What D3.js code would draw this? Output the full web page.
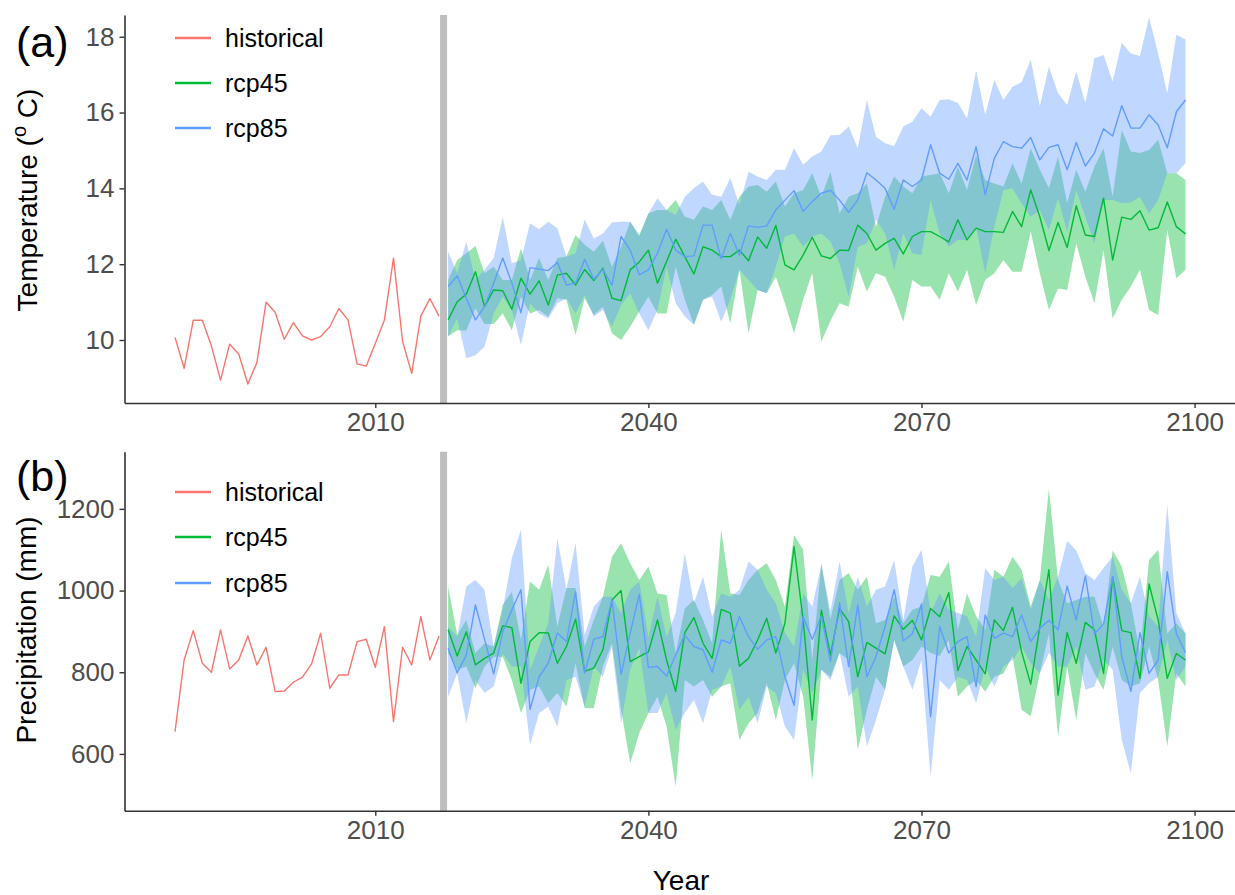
<!DOCTYPE html>
<html>
<head>
<meta charset="utf-8">
<script src="https://cdn.jsdelivr.net/npm/d3@7/dist/d3.min.js"></script>
<style>
  html, body { margin: 0; padding: 0; background: #fff; }
  svg { display: block; font-family: "Liberation Sans", Arial, sans-serif; }
</style>
</head>
<body>
<svg id="chart" width="1235" height="895"></svg>
<script>
// ---------------- DATA ----------------
const histStart = 1988;
const futStart = 2018;
const seriesNames = ["historical", "rcp45", "rcp85"];
const xTicks = [2010, 2040, 2070, 2100];
const tempTicks = [10, 12, 14, 16, 18];
const precTicks = [600, 800, 1000, 1200];

const histTemp = [10.07, 9.25, 10.52, 10.52, 9.84, 8.94, 9.89, 9.63, 8.84, 9.41, 11.00, 10.73, 10.02, 10.46, 10.11, 10.00, 10.09, 10.35, 10.83, 10.53, 9.37, 9.31, 9.91, 10.53, 12.16, 9.96, 9.12, 10.63, 11.09, 10.63];

const t45 = [10.53, 11.01, 11.21, 11.80, 10.88, 11.32, 11.30, 10.81, 11.63, 11.21, 11.56, 10.92, 11.71, 11.76, 11.45, 11.86, 11.57, 11.89, 11.10, 11.04, 11.85, 12.06,
  12.37, 11.50, 12.07, 12.66, 12.20, 11.74, 12.46, 12.37, 12.20, 12.20, 12.37, 12.09, 12.72, 12.42, 13.02, 11.98, 11.85, 12.24, 12.71, 12.22, 12.15,
  12.37, 12.36, 13.03, 12.81, 12.37, 12.55, 12.68, 12.27, 12.73, 12.86, 12.86, 12.73, 12.59, 13.17, 12.64, 12.95, 12.86, 12.86, 12.84, 13.39, 12.99,
  13.96, 13.25, 12.36, 13.10, 12.44, 13.54, 12.77, 12.73, 13.74, 12.11, 13.24, 13.18, 13.41, 12.90, 12.96, 13.64, 12.99, 12.80];
const t45Hi = [11.58, 12.11, 12.29, 12.48, 11.76, 11.93, 11.58, 11.58, 12.42, 11.58, 12.16, 11.58, 12.16, 12.20, 12.77, 12.51, 12.33, 12.62, 11.93, 12.46, 13.12, 12.77,
  13.34, 13.43, 13.43, 13.69, 13.25, 13.17, 13.52, 13.43, 13.69, 13.17, 13.78, 14.05, 14.09, 13.91, 14.18, 13.52, 13.87, 13.96, 14.40, 13.78, 14.44,
  13.34, 13.78, 13.87, 14.13, 12.99, 13.78, 14.31, 14.05, 13.87, 14.31, 14.35, 14.40, 13.87, 14.57, 13.96, 14.88, 14.22, 14.13, 14.05, 14.66, 14.13,
  15.06, 14.49, 14.00, 14.84, 13.61, 14.49, 13.91, 14.57, 15.06, 13.78, 15.54, 14.97, 14.93, 15.01, 15.28, 14.40, 14.40, 14.22];
const t45Lo = [10.09, 10.26, 10.25, 10.84, 10.42, 10.42, 10.70, 10.26, 11.14, 10.70, 10.79, 10.62, 11.10, 11.06, 10.13, 11.10, 10.66, 10.88, 10.18, 10.00, 10.35, 10.75,
  11.14, 10.70, 10.70, 11.93, 11.06, 10.40, 11.06, 11.19, 11.41, 10.44, 11.85, 10.18, 11.32, 11.23, 11.67, 10.97, 10.18, 11.06, 11.76, 9.96, 10.50,
  10.97, 10.88, 11.93, 11.28, 11.76, 11.67, 11.14, 10.48, 11.58, 11.41, 11.41, 11.06, 11.76, 11.28, 11.85, 10.92, 11.58, 11.76, 12.11, 11.80, 11.80,
  12.86, 11.76, 10.79, 11.36, 11.32, 12.55, 11.67, 10.97, 12.37, 10.57, 11.06, 11.41, 11.85, 10.79, 10.66, 12.90, 11.63, 11.85];

const t85 = [11.41, 11.69, 11.10, 10.53, 10.88, 11.50, 12.16, 11.50, 10.72, 11.91, 11.87, 11.83, 12.05, 11.45, 11.50, 12.13, 11.60, 11.86, 11.45, 12.73, 12.37, 11.72,
  11.85, 12.29, 12.92, 12.37, 12.20, 12.22, 13.03, 13.03, 12.14, 12.81, 12.24, 13.01, 12.97, 13.01, 13.43, 13.69, 13.94, 13.39, 13.65, 13.87, 13.95,
  13.69, 13.37, 13.69, 14.41, 14.22, 14.00, 13.45, 14.22, 14.05, 14.22, 15.15, 14.40, 14.24, 14.66, 14.22, 15.10, 13.83, 14.79, 15.23, 15.10, 15.06,
  15.34, 14.75, 15.08, 15.15, 14.49, 15.21, 14.59, 14.93, 15.57, 15.38, 16.18, 15.59, 15.59, 15.94, 15.67, 15.07, 16.02, 16.33];
const t85Hi = [12.33, 11.76, 12.59, 11.58, 11.85, 12.16, 13.25, 12.02, 12.11, 13.08, 12.92, 13.12, 12.95, 12.20, 12.29, 13.18, 12.68, 12.81, 13.10, 13.12, 13.12, 12.73,
  13.34, 13.74, 13.43, 13.30, 13.78, 14.00, 14.18, 13.83, 13.78, 14.27, 13.56, 14.44, 14.31, 14.22, 14.49, 14.49, 15.06, 14.62, 14.84, 14.97, 15.40,
  15.41, 15.63, 15.06, 16.33, 15.36, 15.19, 15.12, 15.63, 15.76, 16.11, 15.89, 16.33, 16.35, 16.25, 15.85, 17.11, 15.94, 16.86, 16.33, 16.68, 16.80,
  17.39, 16.17, 17.21, 16.51, 16.20, 17.08, 16.25, 17.43, 17.52, 16.82, 17.84, 17.56, 17.49, 18.51, 17.56, 16.51, 18.05, 17.93];
const t85Lo = [10.09, 10.57, 9.52, 9.60, 9.82, 10.70, 11.14, 10.79, 9.87, 10.97, 10.70, 10.57, 10.97, 11.10, 10.70, 11.19, 10.62, 10.79, 10.35, 10.92, 11.23, 10.70,
  10.26, 10.79, 11.93, 10.97, 10.62, 10.40, 11.06, 11.14, 10.48, 11.06, 11.85, 11.58, 11.32, 11.23, 11.93, 12.73, 12.81, 12.46, 12.73, 12.81, 12.60,
  12.02, 11.14, 12.46, 12.55, 13.17, 12.81, 11.85, 12.81, 12.29, 12.24, 13.69, 12.81, 12.46, 12.64, 12.64, 12.99, 11.76, 12.99, 13.96, 14.00, 13.60,
  13.25, 13.43, 12.90, 13.74, 12.86, 13.96, 13.25, 12.55, 13.69, 13.69, 13.61, 13.63, 13.78, 13.34, 13.69, 14.40, 14.40, 14.66];

const histPrec = [654.6, 830.1, 901.9, 822.0, 800.0, 903.6, 808.1, 830.1, 888.9, 817.9, 861.2, 752.5, 754.2, 775.5, 787.8, 820.3, 895.5, 760.8, 793.4, 793.4, 874.9, 880.8, 812.2, 911.7, 679.0, 861.2, 817.9, 936.2, 830.1, 888.9];

const p45 = [904, 840, 899, 818, 834, 847, 914, 909, 773, 875, 897, 896, 822, 863, 930, 802, 810, 855, 977, 1000, 826, 838,
  850, 928, 830, 753, 897, 934, 871, 834, 954, 945, 815, 834, 879, 932, 847, 920, 1108, 928, 683, 952, 842,
  956, 924, 789, 873, 859, 845, 938, 905, 927, 879, 956, 936, 995, 804, 863, 830, 796, 928, 902, 959, 850,
  771, 912, 1051, 744, 897, 822, 922, 904, 797, 1034, 902, 897, 785, 1016, 928, 785, 846, 830];
const p45Hi = [1010, 891, 928, 847, 871, 863, 965, 997, 879, 1022, 1002, 1063, 912, 1006, 1006, 863, 928, 985, 1083, 1116, 1067, 1026,
  1059, 993, 989, 847, 956, 977, 928, 871, 1149, 993, 989, 1026, 1051, 1067, 1026, 961, 1136, 1100, 830, 1067, 930,
  1026, 1043, 1002, 1034, 920, 928, 985, 920, 953, 961, 1038, 1034, 1071, 904, 993, 937, 904, 1051, 1034, 1083, 1051,
  961, 1026, 1250, 1026, 969, 977, 985, 985, 912, 1098, 1059, 969, 847, 1075, 1100, 895, 920, 895];
const p45Lo = [846, 806, 814, 761, 814, 838, 838, 781, 700, 757, 765, 724, 749, 716, 822, 712, 712, 814, 871, 708, 577, 651,
  700, 740, 667, 520, 781, 765, 781, 740, 765, 773, 634, 675, 700, 773, 683, 781, 822, 740, 536, 806, 789,
  847, 830, 610, 708, 789, 757, 879, 814, 830, 863, 847, 840, 879, 740, 765, 781, 753, 789, 797, 840, 708,
  692, 797, 895, 642, 814, 683, 847, 797, 757, 863, 781, 765, 773, 863, 781, 618, 797, 765];

const p85 = [859, 799, 842, 965, 881, 796, 899, 953, 1002, 709, 789, 822, 896, 875, 997, 798, 881, 887, 977, 795, 896, 991,
  812, 814, 791, 842, 891, 863, 855, 800, 879, 871, 936, 887, 856, 879, 887, 789, 719, 936, 881, 938, 826,
  970, 814, 965, 789, 838, 912, 1002, 877, 894, 967, 691, 912, 847, 875, 887, 765, 940, 883, 896, 887, 940,
  875, 908, 927, 904, 1011, 928, 1036, 894, 918, 1034, 838, 753, 897, 797, 830, 1046, 895, 848];
const p85Hi = [912, 887, 1010, 1026, 1002, 863, 953, 1079, 1149, 806, 863, 920, 1128, 1002, 1116, 891, 961, 985, 985, 945, 1002, 1022,
  887, 985, 887, 945, 1091, 969, 1034, 936, 993, 985, 1002, 1071, 1051, 1002, 969, 896, 863, 993, 961, 1063, 950,
  1071, 945, 1034, 961, 1002, 1010, 1075, 928, 1059, 1100, 945, 993, 953, 945, 937, 887, 1055, 1026, 1034, 1006, 1030,
  953, 1026, 977, 1034, 1122, 1098, 1043, 1026, 1055, 1083, 1002, 969, 1034, 937, 912, 1210, 945, 895];
const p85Lo = [740, 797, 675, 781, 749, 765, 846, 814, 814, 622, 700, 716, 667, 781, 789, 716, 814, 789, 862, 675, 806, 860,
  700, 700, 749, 659, 700, 732, 675, 757, 765, 814, 708, 740, 675, 765, 749, 667, 634, 806, 749, 806, 781,
  847, 740, 765, 618, 683, 757, 879, 814, 757, 830, 544, 781, 757, 789, 781, 724, 814, 765, 814, 830, 863,
  822, 797, 847, 814, 814, 863, 757, 765, 830, 806, 634, 553, 749, 773, 789, 879, 781, 814];

// ---------------- LAYOUT ----------------
const FONT = '"Liberation Sans", Arial, sans-serif';
const colors = { historical: "#F8766D", rcp45: "#00BA38", rcp85: "#619CFF" };
const svg = d3.select("#chart");

const x = d3.scaleLinear().domain([1982.45, 2104.55]).range([124.5, 1236]);

const panels = [
  { tag: "(a)", tagY: 57, title: "temp", yDomain: [8.338, 18.573], yRange: [403, 15],
    ticks: tempTicks, hist: histTemp,
    s45: [t45, t45Lo, t45Hi], s85: [t85, t85Lo, t85Hi],
    legendY: [38, 83, 128], titleY: 200, titleX: 37 },
  { tag: "(b)", tagY: 491, title: "prec", yDomain: [461, 1340], yRange: [810.7, 451.7],
    ticks: precTicks, hist: histPrec,
    s45: [p45, p45Lo, p45Hi], s85: [p85, p85Lo, p85Hi],
    legendY: [492, 537, 583], titleY: 630, titleX: 36 }
];

panels.forEach(p => {
  const y = d3.scaleLinear().domain(p.yDomain).range(p.yRange);
  const g = svg.append("g");

  const histData = p.hist.map((v, i) => ({ yr: histStart + i, v }));
  const mk = (arr) => arr[0].map((v, i) => ({ yr: futStart + i, v, lo: arr[1][i], hi: arr[2][i] }));
  const d45 = mk(p.s45), d85 = mk(p.s85);

  const area = d3.area().x(d => x(d.yr)).y0(d => y(d.lo)).y1(d => y(d.hi));
  const line = d3.line().x(d => x(d.yr)).y(d => y(d.v));

  // ribbons
  g.append("path").datum(d45).attr("d", area).attr("fill", colors.rcp45).attr("fill-opacity", 0.4);
  g.append("path").datum(d85).attr("d", area).attr("fill", colors.rcp85).attr("fill-opacity", 0.4);

  // vertical divider
  g.append("line")
    .attr("x1", x(2017.5)).attr("x2", x(2017.5))
    .attr("y1", p.yRange[0]).attr("y2", p.yRange[1])
    .attr("stroke", "#BEBEBE").attr("stroke-width", 7);

  // lines
  [["historical", histData], ["rcp45", d45], ["rcp85", d85]].forEach(([k, d]) => {
    g.append("path").datum(d).attr("d", line)
      .attr("fill", "none").attr("stroke", colors[k]).attr("stroke-width", 1.4)
      .attr("stroke-linejoin", "round");
  });

  // axes
  const ax = g.append("g").attr("transform", `translate(0,${p.yRange[0]})`)
    .call(d3.axisBottom(x).tickValues(xTicks).tickFormat(d3.format("d")).tickSize(5).tickSizeOuter(0).tickPadding(5));
  const ay = g.append("g").attr("transform", `translate(${x.range()[0]},0)`)
    .call(d3.axisLeft(y).tickValues(p.ticks).tickFormat(d3.format("d")).tickSize(5).tickSizeOuter(0).tickPadding(5));
  [ax, ay].forEach(a => {
    a.select(".domain").attr("stroke", "#333").attr("stroke-width", 1.6);
    a.selectAll(".tick line").attr("stroke", "#333").attr("stroke-width", 1.4);
    a.selectAll(".tick text").attr("fill", "#4D4D4D").style("font-size", "26px").style("font-family", FONT);
  });

  // panel tag
  g.append("text").attr("x", 16).attr("y", p.tagY).text(p.tag)
    .style("font-size", "43px").style("font-family", FONT).attr("fill", "#000");

  // y title
  const yt = g.append("text")
    .attr("transform", `translate(${p.titleX},${p.titleY}) rotate(-90)`)
    .attr("text-anchor", "middle")
    .style("font-size", "28px").style("font-family", FONT).attr("fill", "#000");
  if (p.title === "temp") {
    yt.append("tspan").text("Temperature (");
    yt.append("tspan").text("o").attr("dy", -11).style("font-size", "20px");
    yt.append("tspan").text(" C)").attr("dy", 11);
  } else {
    yt.text("Precipitation (mm)");
  }

  // legend
  seriesNames.forEach((k, i) => {
    const ly = p.legendY[i];
    g.append("line").attr("x1", 175).attr("x2", 211).attr("y1", ly).attr("y2", ly)
      .attr("stroke", colors[k]).attr("stroke-width", 2.6);
    g.append("text").attr("x", 225).attr("y", ly).attr("dy", "0.35em").text(k)
      .style("font-size", "25px").style("font-family", FONT).attr("fill", "#000");
  });
});

// x title
svg.append("text").attr("x", 681).attr("y", 890).attr("text-anchor", "middle")
  .text("Year").style("font-size", "28px").style("font-family", FONT).attr("fill", "#000");
</script>
</body>
</html>
